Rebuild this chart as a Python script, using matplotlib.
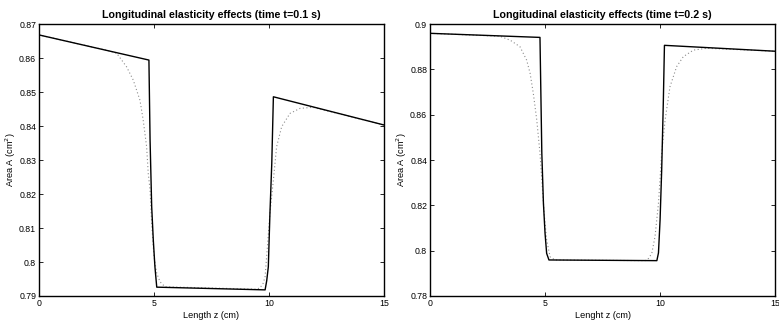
import numpy as np
import matplotlib.pyplot as plt
from matplotlib.ticker import FormatStrFormatter

plt.rcParams['font.family'] = ['Liberation Sans', 'DejaVu Sans']

# Instante t = 0.1 s
z1_solid = [0, 4.78, 4.83, 4.90, 4.97, 5.04, 5.12, 9.83, 9.90, 9.97, 10.04, 10.12, 10.19, 15]
A1_solid = [0.8668, 0.8594, 0.8359, 0.8163, 0.8065, 0.7987, 0.7926, 0.7918, 0.7945, 0.7986, 0.8143,
            0.8290, 0.8486, 0.8403]
z1_dot = [0, 3.0, 3.38, 3.81, 4.10, 4.39, 4.53, 4.68, 4.75, 4.83, 4.90, 5.00, 5.12, 5.26, 5.48,
          9.45, 9.61, 9.75, 9.83, 9.93, 10.04, 10.19, 10.33, 10.55, 10.91, 11.35, 11.9, 15]
A1_dot = [0.8668, 0.8622, 0.8614, 0.8574, 0.8535, 0.8476, 0.8418, 0.8339, 0.8261, 0.8212, 0.8114,
          0.8016, 0.7967, 0.7942, 0.7927, 0.7920, 0.7924, 0.7938, 0.7957, 0.8045, 0.8143, 0.8241,
          0.8339, 0.8398, 0.8437, 0.8452, 0.8455, 0.8403]

# Instante t = 0.2 s
z2_solid = [0, 4.78, 4.86, 4.93, 5.00, 5.07, 5.17, 9.86, 9.93, 10.00, 10.07, 10.14, 10.19, 15]
A2_solid = [0.8959, 0.8941, 0.8430, 0.8209, 0.8077, 0.7988, 0.7959, 0.7956, 0.7990, 0.8135, 0.8356,
            0.8650, 0.8906, 0.8880]
z2_dot = [0, 3.04, 3.48, 3.91, 4.20, 4.35, 4.49, 4.64, 4.78, 4.86, 4.96, 5.07, 5.22, 5.43,
          9.35, 9.5, 9.64, 9.78, 9.93, 10.07, 10.22, 10.43, 10.72, 11.01, 11.45, 12.03, 15]
A2_dot = [0.8959, 0.8946, 0.8929, 0.8900, 0.8841, 0.8783, 0.8694, 0.8577, 0.8430, 0.8312, 0.8165,
          0.8047, 0.7973, 0.7959, 0.7956, 0.7966, 0.7988, 0.8062, 0.8209, 0.8430, 0.8577, 0.8723,
          0.8812, 0.8856, 0.8885, 0.8893, 0.8880]

fig = plt.figure(figsize=(7.79, 3.23), dpi=100)
ax1 = fig.add_axes([0.050, 0.0836, 0.443, 0.842])
ax2 = fig.add_axes([0.552, 0.0836, 0.443, 0.842])

painel = [
    (ax1, z1_solid, A1_solid, z1_dot, A1_dot, 0.79, 0.87, 0.01, 'Length z (cm)', 0.1),
    (ax2, z2_solid, A2_solid, z2_dot, A2_dot, 0.78, 0.90, 0.02, 'Lenght z (cm)', 0.2),
]

for ax, zs, As, zd, Ad, ymin, ymax, step, xlab, t in painel:
    ax.plot(zd, Ad, linestyle=(0, (1, 2.2)), color='0.55', linewidth=0.8)
    ax.plot(zs, As, color='black', linewidth=1.0)
    ax.set_xlim(0, 15)
    ax.set_ylim(ymin, ymax)
    ax.set_xticks([0, 5, 10, 15])
    ax.set_yticks(np.arange(ymin, ymax + step / 2, step))
    ax.yaxis.set_major_formatter(FormatStrFormatter('%g'))
    ax.tick_params(direction='in', length=3, width=0.6, labelsize=6.3, top=True, right=True, pad=2)
    for s in ax.spines.values():
        s.set_linewidth(1.0)
    ax.set_xlabel(xlab, fontsize=6.6, labelpad=2)
    ax.set_ylabel('Area A (cm$^2$)', fontsize=6.6, labelpad=1)
    ax.set_title('Longitudinal elasticity effects (time t={} s)'.format(t),
                 fontsize=7.7, fontweight='bold', pad=4)

fig.savefig('out.png', dpi=100)
